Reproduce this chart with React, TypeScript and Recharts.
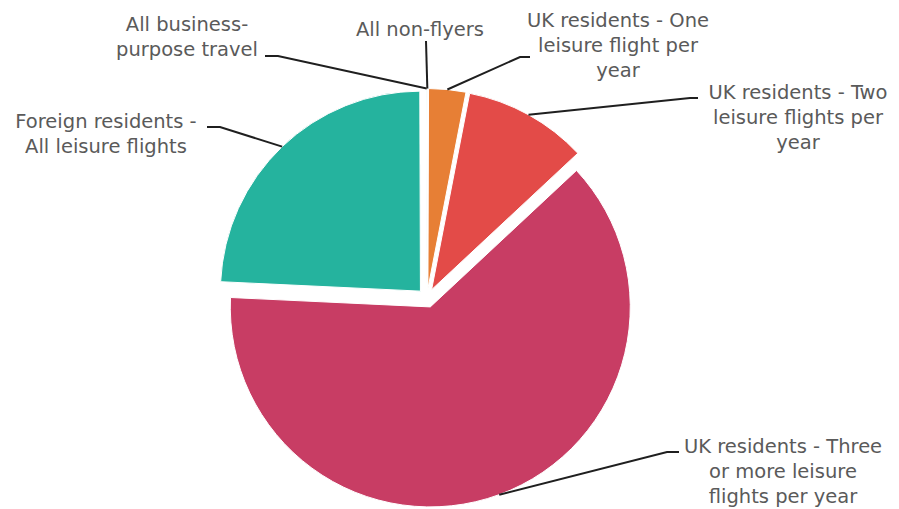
import { PieChart, Pie, Cell, Sector } from 'recharts';

const categories = [
  'All non-flyers',
  'UK residents - One leisure flight per year',
  'UK residents - Two leisure flights per year',
  'UK residents - Three or more leisure flights per year',
  'Foreign residents - All leisure flights',
  'All business-purpose travel',
];
const shares = [0.05, 3.0, 10.0, 62.7, 24.2, 0.05];
const colors = ['#e77f35', '#e77f35', '#e34b48', '#c83d64', '#25b39e', '#25b39e'];
const labelLines = [
  ['All non-flyers'],
  ['UK residents - One', 'leisure flight per', 'year'],
  ['UK residents - Two', 'leisure flights per', 'year'],
  ['UK residents - Three', 'or more leisure', 'flights per year'],
  ['Foreign residents -', 'All leisure flights'],
  ['All business-', 'purpose travel'],
];

// where each callout goes: leader elbow, end of the short flat tick, text centre and first baseline
const labelLayout = [
  { elbow: [426, 41], end: [426, 41], tx: 420, ty: 36 },
  { elbow: [520, 57], end: [530, 57], tx: 618, ty: 27 },
  { elbow: [690, 98], end: [698, 98], tx: 798, ty: 99 },
  { elbow: [667, 452], end: [679, 452], tx: 783, ty: 453 },
  { elbow: [220, 127], end: [207, 127], tx: 106, ty: 128 },
  { elbow: [278, 56], end: [265, 56], tx: 187, ty: 31 },
];

const data = categories.map((name, i) => ({ name, value: shares[i] }));

const RAD = Math.PI / 180;
const PULL = 9.5;

const ExplodedSector = (props: any) => {
  const { cx, cy, midAngle } = props;
  const a = -midAngle * RAD;
  return <Sector {...props} cx={cx + PULL * Math.cos(a)} cy={cy + PULL * Math.sin(a)} />;
};

const renderLabel = (props: any) => {
  const { cx, cy, midAngle, outerRadius, index } = props;
  const a = -midAngle * RAD;
  const sx = cx + (outerRadius + PULL) * Math.cos(a);
  const sy = cy + (outerRadius + PULL) * Math.sin(a);
  const l = labelLayout[index];
  return (
    <g key={`lbl-${index}`}>
      <polyline
        points={`${sx},${sy} ${l.elbow[0]},${l.elbow[1]} ${l.end[0]},${l.end[1]}`}
        fill="none"
        stroke="#1f1f1f"
        strokeWidth={2}
      />
      {labelLines[index].map((t, i) => (
        <text
          key={i}
          x={l.tx}
          y={l.ty + i * 25}
          textAnchor="middle"
          fill="#5a5a5a"
          fontSize={19.5}
          fontFamily="'DejaVu Sans', sans-serif"
        >
          {t}
        </text>
      ))}
    </g>
  );
};

export default function App() {
  return (
    <div style={{ position: 'absolute', left: 0, top: 0, background: '#fff' }}>
      <PieChart width={899} height={509} margin={{ top: 0, right: 0, bottom: 0, left: 0 }}>
        <Pie
          data={data}
          dataKey="value"
          nameKey="name"
          cx={427}
          cy={298}
          outerRadius={200}
          startAngle={90}
          endAngle={-270}
          stroke="#fff"
          strokeWidth={1}
          shape={ExplodedSector}
          activeShape={ExplodedSector}
          inactiveShape={ExplodedSector}
          label={renderLabel}
          labelLine={false}
          isAnimationActive={false}
        >
          {data.map((d, i) => (
            <Cell key={d.name} fill={colors[i]} />
          ))}
        </Pie>
      </PieChart>
    </div>
  );
}
